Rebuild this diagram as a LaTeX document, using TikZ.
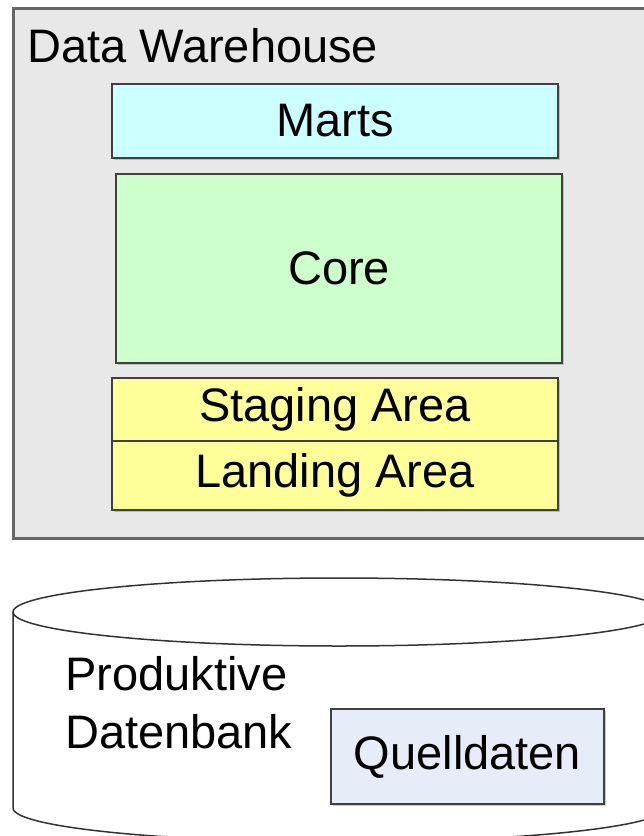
\documentclass[tikz,border=0pt]{standalone}
\usepackage{fontspec}
\setmainfont{Liberation Sans}
\usetikzlibrary{shadows}
\definecolor{dwgray}{RGB}{232,232,232}
\definecolor{martscyan}{RGB}{204,255,255}
\definecolor{coregreen}{RGB}{204,255,204}
\definecolor{areayellow}{RGB}{255,255,153}
\definecolor{quelleblue}{RGB}{230,236,248}
\begin{document}
\begin{tikzpicture}[x=1pt,y=-1pt,
    bigfont/.style={font=\fontsize{47}{58}\selectfont},
    layer/.style={bigfont,draw=black!75,line width=1.5pt,minimum width=446pt,inner sep=0pt,
      drop shadow={shadow xshift=1.5pt,shadow yshift=-1.5pt,opacity=.4}}]
    \useasboundingbox (0,0) rectangle (644,836);

    % Data Warehouse
    \draw[line width=3pt,draw=black!60,fill=dwgray] (13,8) rectangle (720,538);
    \node[bigfont,anchor=base west,inner sep=0pt] (dwlabel) at (27,62) {Data Warehouse};
    \node[layer,fill=martscyan,minimum height=74pt] (marts) at (335,121) {Marts};
    \node[layer,fill=coregreen,minimum height=189pt] (core) at (339,268.5) {Core};
    \foreach \name/\y/\h/\txt in {
        staging/409.5/63/Staging Area,
        landing/475.5/69/Landing Area} {
        \node[layer,fill=areayellow,minimum height=\h pt] (\name) at (335,\y) {\txt};
    }

    % Datenbank
    \draw[line width=1.5pt,draw=black!80,fill=white]
        (13,612) -- (13,808) arc[start angle=180,end angle=360,x radius=326pt,y radius=34pt]
        -- (665,612);
    \draw[line width=1.5pt,draw=black!80,fill=white] (339,612) ellipse[x radius=326pt,y radius=34pt];
    \node[bigfont,align=left,anchor=north west,inner sep=0pt] (db) at (65,656) {Produktive\\Datenbank};
    \node[layer,fill=quelleblue,minimum width=273pt,minimum height=95pt,drop shadow={opacity=0}] (quelle) at (467.5,756.5) {Quelldaten};
\end{tikzpicture}
\end{document}
